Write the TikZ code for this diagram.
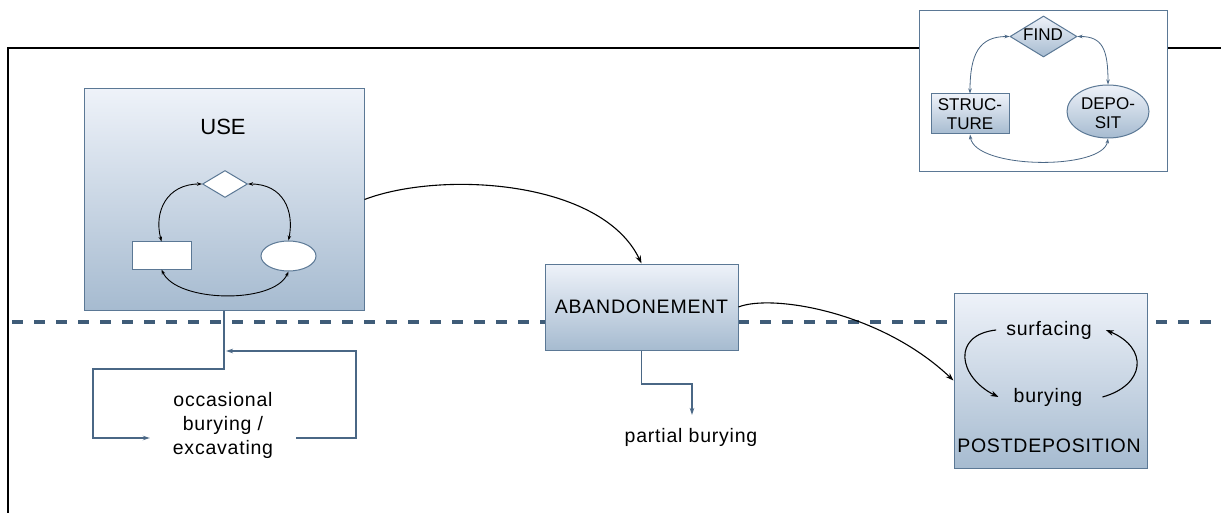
\documentclass[tikz,border=0pt]{standalone}
\usepackage{fontspec}
\setmainfont{Liberation Sans}
\newfontfamily\spaced{Liberation Sans}[LetterSpace=4]
\usetikzlibrary{shapes.geometric,arrows.meta}

\definecolor{edge}{HTML}{5B7895}
\definecolor{shadetop}{HTML}{EEF2F9}
\definecolor{shadebot}{HTML}{A6BBD0}
\definecolor{dashcol}{HTML}{3F5C78}
\definecolor{linkcol}{HTML}{4A6785}

\newcommand{\mainsz}{\spaced\fontsize{19.5}{24}\selectfont}
\newcommand{\insetsz}{\fontsize{17}{19}\selectfont}

\tikzset{
  stagebox/.style={draw=edge, line width=1pt, top color=shadetop, bottom color=shadebot, inner sep=0pt},
  blank/.style={draw=edge, line width=1pt, fill=white, inner sep=0pt},
  lbl/.style={inner sep=0pt, font=\mainsz},
  bigarrow/.style={draw=black, line width=1.1pt, -{Stealth[length=8pt,width=5.5pt]}},
  innerlink/.style={draw=black, line width=0.9pt,
    {Stealth[length=5pt,width=3.5pt]}-{Stealth[length=5pt,width=3.5pt]}},
  minilink/.style={draw=linkcol, line width=0.8pt,
    {Stealth[length=5pt,width=3.5pt]}-{Stealth[length=5pt,width=3.5pt]}},
  flow/.style={draw=linkcol, line width=1.2pt, -{Stealth[length=7pt,width=4.5pt]}},
}

\begin{document}
\begin{tikzpicture}[x=1pt,y=-1pt]
\useasboundingbox (0,0) rectangle (1221,513);

% outer frame (top and left edges)
\draw[line width=2pt] (8,513) -- (8,48) -- (1221,48);

% ground level
\draw[dashcol, line width=4pt, dash pattern=on 11pt off 11pt] (12,322) -- (1221,322);

% legend
\node[draw=edge, line width=1pt, fill=white, minimum width=248pt, minimum height=161pt] (legend) at (1043,91.5) {};
\node[stagebox, diamond, minimum width=67pt, minimum height=41pt] (find) at (1043.5,36.5) {};
\node[inner sep=0pt, font=\insetsz] (findlbl) at (1043,34.5) {FIND};
\node[stagebox, minimum width=78pt, minimum height=40pt, align=center, font=\insetsz] (struct) at (970,114) {STRUC-\\TURE};
\node[stagebox, ellipse, minimum width=82pt, minimum height=53pt] (depo) at (1108,111.5) {};
\node[inner sep=0pt, align=center, font=\insetsz] (depolbl) at (1108,113) {DEPO-\\SIT};
\draw[minilink] (find.west) .. controls +(-30,0) and +(0,-40) .. (struct.north);
\draw[minilink] (find.east) .. controls +(25,0) and +(0,-35) .. (depo.north);
\draw[minilink] (struct.south) .. controls +(5,35) and +(-5,32) .. (depo.south);

% USE stage
\node[stagebox, minimum width=280pt, minimum height=221pt] (use) at (224,199.5) {};
\node[inner sep=0pt, font=\fontsize{22}{26}\selectfont] (uselbl) at (223,127) {USE};
\node[blank, diamond, minimum width=45pt, minimum height=27pt] (ud) at (225,184) {};
\node[blank, minimum width=59pt, minimum height=27pt] (ur) at (161.5,255.5) {};
\node[blank, ellipse, minimum width=55pt, minimum height=30pt] (ue) at (288.5,256) {};
\draw[innerlink] (ud.west) .. controls +(-35,0) and +(-8,-30) .. (ur.north);
\draw[innerlink] (ud.east) .. controls +(35,0) and +(6,-30) .. (ue.north);
\draw[innerlink] (ur.south) .. controls +(15,33) and +(-15,33) .. (ue.south);

% occasional burying loop
\node[lbl, align=center, minimum width=146pt] (occ) at (223,425) {occasional\\burying /\\excavating};
\coordinate (joint) at (226,351);
\draw[flow] (use.south) |- (93,369) |- ([yshift=-13pt]occ.west);
\draw[flow] ([yshift=-13pt]occ.east) -| (356,351) -- (joint);

% ABANDONEMENT stage
\node[stagebox, minimum width=193pt, minimum height=86pt, font=\mainsz] (aband) at (641.5,307) {ABANDONEMENT};
\node[lbl, anchor=north] (pb) at (691,428) {partial burying};
\coordinate (pbtip) at (692,415);
\draw[flow] (aband.south) |- (692,384) -- (pbtip);

% POSTDEPOSITION stage
\node[stagebox, minimum width=193pt, minimum height=175pt] (post) at (1050.5,380.5) {};
\node[lbl] (postlbl) at (1049,446) {POSTDEPOSITION};
\node[lbl] (surf) at (1049,330) {surfacing};
\node[lbl] (bury) at (1048,397) {burying};
\draw[bigarrow] ([xshift=-10pt]surf.west) .. controls +(-45,5) and +(-40,-20) .. ([xshift=-15pt]bury.west);
\draw[bigarrow] ([xshift=20pt]bury.east) .. controls +(43,-12) and +(43,18) .. ([xshift=14pt]surf.east);

% transitions between stages
\draw[bigarrow] (use.east) .. controls +(76,-29) and +(-40,-84) .. (aband.north);
\draw[bigarrow] (aband.east) .. controls +(32,-13) and +(-74,-70) .. (post.west);
\end{tikzpicture}
\end{document}
